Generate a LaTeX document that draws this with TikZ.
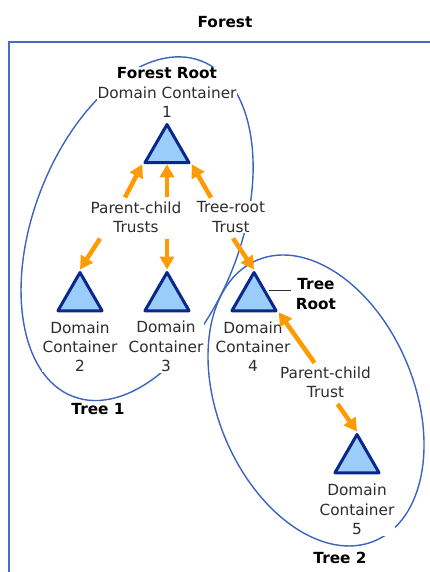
\documentclass[tikz,border=0pt]{standalone}
\usepackage{fontspec}
\setmainfont{DejaVu Sans}
\usetikzlibrary{shapes.geometric,arrows.meta,calc}

\definecolor{txt}{RGB}{45,45,45}
\definecolor{framec}{RGB}{70,110,200}
\definecolor{ringc}{RGB}{60,100,190}
\definecolor{domfill}{RGB}{155,205,250}
\definecolor{domline}{RGB}{10,40,140}
\definecolor{trustc}{RGB}{255,154,0}

\tikzset{
  lbl/.style={align=center, fill=white, inner sep=0.8pt, text=txt,
    font=\fontsize{15.3}{19.3}\selectfont},
  ttl/.style={align=center, fill=white, inner sep=0.8pt, text=black,
    font=\bfseries\fontsize{15.3}{19.3}\selectfont},
  dom/.style={regular polygon, regular polygon sides=3, minimum size=51pt,
    inner sep=0pt, fill=domfill, draw=domline, line width=3pt, line join=round},
  trust/.style={draw=trustc, line width=4.5pt,
    -{Triangle[length=13pt,width=14pt]}},
  treering/.style={draw=ringc, line width=1.4pt},
  framing/.style={draw=framec, line width=2pt},
  leader/.style={draw=txt, line width=1.3pt},
}

\begin{document}
\begin{tikzpicture}[x=1pt,y=-1pt]
\useasboundingbox (0,0) rectangle (430,572);

% forest frame, open to the right and below
\draw[framing] (440,42) -- (9,42) -- (9,580);

% tree outlines
\coordinate (c1) at (137.1,228.7);
\coordinate (c2) at (316,400.5);
\draw[treering, rotate around={69.13:(c1)}] (c1) ellipse [x radius=179.6pt, y radius=103.6pt];
\draw[treering, rotate around={-67.35:(c2)}] (c2) ellipse [x radius=152.2pt, y radius=98.3pt];

% titles and labels
\node[ttl, fill=none] (forest) at (225,22) {Forest};
\node[lbl] (root) at (167,92.5) {{\bfseries\color{black}Forest Root}\\Domain Container\\1};
\node[lbl] (pcA) at (136,217) {Parent-child\\Trusts};
\node[lbl] (trA) at (231,217) {Tree-root\\Trust};
\node[lbl] (d2) at (80,346.5) {Domain\\Container\\2};
\node[lbl] (d3) at (166,346.5) {Domain\\Container\\3};
\node[lbl] (d4) at (253,346.5) {Domain\\Container\\4};
\node[ttl] (tr) at (316,294) {Tree\\Root};
\node[lbl] (pcB) at (325.5,382.5) {Parent-child\\Trust};
\node[lbl] (d5) at (357,509.5) {Domain\\Container\\5};
\node[ttl] (tree1) at (98,409) {Tree 1};
\node[ttl] (tree2) at (340,558) {Tree 2};

% domain containers
\node[dom] (t1) at (167,150) {};
\node[dom] (t2) at (80,298) {};
\node[dom] (t3) at (167,298) {};
\node[dom] (t4) at (254,298) {};
\node[dom] (t5) at (357,460) {};

% trusts
\draw[trust] ([xshift=-11pt,yshift=3pt]pcA.north) -- (t1.corner 2);
\draw[trust] ([xshift=31pt,yshift=3pt]pcA.north) -- (t1.south);
\draw[trust] ([xshift=-20pt,yshift=3pt]trA.north) -- (t1.corner 3);
\draw[trust] ([xshift=-36pt,yshift=-5pt]pcA.south) -- (t2.corner 1);
\draw[trust] ([xshift=31pt,yshift=-5pt]pcA.south) -- (t3.corner 1);
\draw[trust] ([xshift=2pt,yshift=-5pt]trA.south) -- (t4.corner 1);
\draw[trust] ([xshift=-11pt,yshift=3pt]pcB.north) -- (t4.corner 3);
\draw[trust] ([xshift=12pt,yshift=-5pt]pcB.south) -- (t5.corner 1);

% tree root pointer
\coordinate (trp) at ($(t4.corner 1)!0.494!(t4.corner 3)$);
\draw[leader, shorten <=3pt, shorten >=4pt] (trp) -- (trp -| tr.west);
\end{tikzpicture}
\end{document}
